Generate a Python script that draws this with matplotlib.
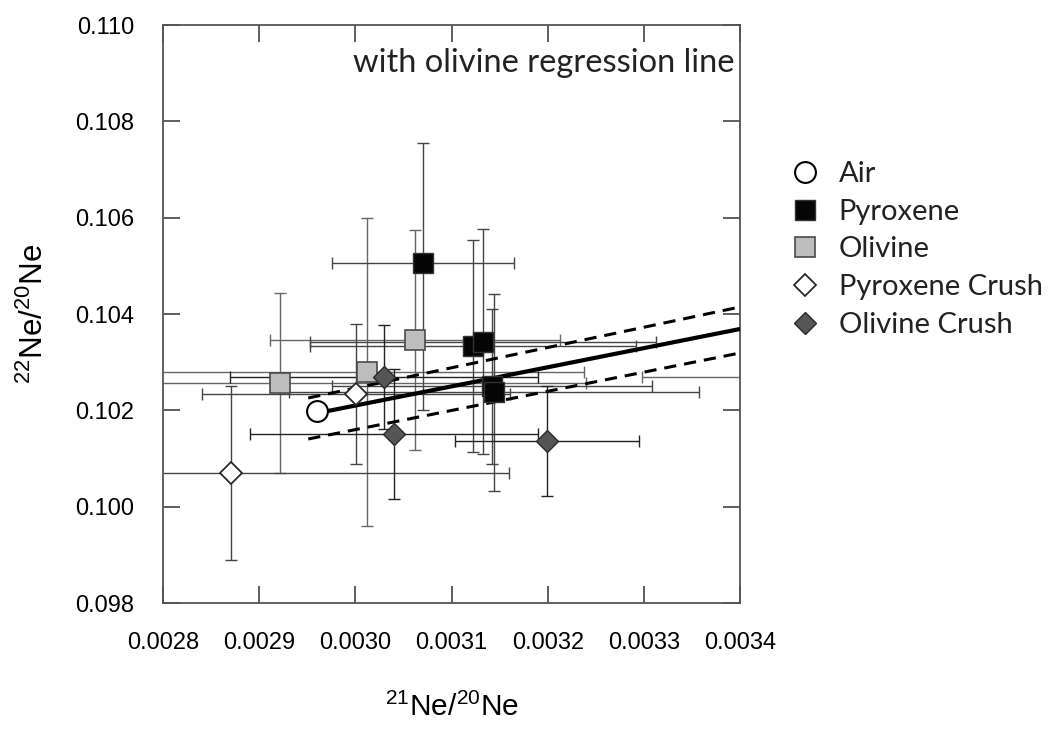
import numpy as np
import matplotlib

matplotlib.use('Agg')

import matplotlib.pyplot as plt

plt.rcParams['font.family'] = ['Liberation Sans', 'DejaVu Sans']
plt.rcParams['mathtext.fontset'] = 'custom'
plt.rcParams['mathtext.rm'] = 'Liberation Sans'
plt.rcParams['mathtext.default'] = 'regular'

# Air
air_x = [0.002960]
air_y = [0.101986]

# Pyroxene (black squares)
pyx_x = [0.0030704, 0.0031224, 0.0031328, 0.0031421, 0.0031442]
pyx_y = [0.105059, 0.103336, 0.103419, 0.102505, 0.102381]
pyx_xerr = [0.0000946, 0.0001695, 0.0001799, 0.0001664, 0.0002132]
pyx_yerr_lo = [0.00305, 0.00220, 0.00233, 0.00162, 0.00206]
pyx_yerr_hi = [0.00249, 0.00220, 0.00235, 0.00160, 0.00203]

# Olivine (grey squares) - the last one lies beyond the x range
oli_x = [0.0029217, 0.0030121, 0.0030621, 0.00345]
oli_y = [0.102568, 0.102796, 0.103460, 0.102692]
oli_xerr = [0.000318, 0.0002257, 0.0001508, 0.000152]
oli_yerr = [0.00186, 0.00320, 0.00228, 0.00100]

# Pyroxene crush (open diamonds)
pxc_x = [0.0028707, 0.0030007]
pxc_y = [0.100699, 0.102339]
pxc_xerr = [0.000289, 0.000160]
pxc_yerr = [0.00180, 0.00145]

# Olivine crush (dark diamonds)
olc_x = [0.0030298, 0.0030402, 0.0031993]
olc_y = [0.102692, 0.101509, 0.101363]
olc_xerr = [0.000160, 0.000150, 0.0000957]
olc_yerr = [0.00107, 0.00135, 0.00114]

# olivine regression line and its envelope
reg_x = [0.002961, 0.0034]
reg_y = [0.101945, 0.103689]
env_x = [0.002951, 0.0034]
env_hi = [0.102257, 0.104146]
env_lo = [0.101405, 0.103191]

fig = plt.figure(figsize=(10.56, 7.36), dpi=100)
ax = fig.add_axes([0.1544, 0.1807, 0.5464, 0.7853])

bar_kw = dict(fmt='none', capsize=4, elinewidth=1.0, capthick=1.0, zorder=2)
ax.errorbar(oli_x, oli_y, xerr=oli_xerr, yerr=oli_yerr, ecolor='#666666', **bar_kw)
ax.errorbar(pyx_x, pyx_y, xerr=pyx_xerr, yerr=[pyx_yerr_lo, pyx_yerr_hi], ecolor='#444444', **bar_kw)
ax.errorbar(pxc_x, pxc_y, xerr=pxc_xerr, yerr=pxc_yerr, ecolor='#444444', **bar_kw)
ax.errorbar(olc_x, olc_y, xerr=olc_xerr, yerr=olc_yerr, ecolor='#222222', **bar_kw)

ax.plot(reg_x, reg_y, color='black', lw=3.0, zorder=3, solid_capstyle='butt')
ax.plot(env_x, env_hi, color='black', lw=2.2, ls=(0, (4, 2.6)), zorder=3)
ax.plot(env_x, env_lo, color='black', lw=2.2, ls=(0, (4, 2.6)), zorder=3)

h_air, = ax.plot(air_x, air_y, ls='none', marker='o', ms=15, mfc='white', mec='black', mew=1.5,
                 zorder=5, label='Air')
h_pyx, = ax.plot(pyx_x, pyx_y, ls='none', marker='s', ms=15, mfc='#050505', mec='#333333', mew=1.0,
                 zorder=4, label='Pyroxene')
h_oli, = ax.plot(oli_x, oli_y, ls='none', marker='s', ms=15, mfc='#bdbdbd', mec='#4a4a4a', mew=1.2,
                 zorder=4, label='Olivine')
h_pxc, = ax.plot(pxc_x, pxc_y, ls='none', marker='D', ms=11, mfc='white', mec='#2a2a2a', mew=1.3,
                 zorder=4, label='Pyroxene Crush')
h_olc, = ax.plot(olc_x, olc_y, ls='none', marker='D', ms=11, mfc='#555555', mec='#2a2a2a', mew=1.0,
                 zorder=4, label='Olivine Crush')

ax.set_xlim(0.0028, 0.0034)
ax.set_ylim(0.098, 0.110)
ax.set_xticks(np.arange(0.0028, 0.00341, 0.0001))
ax.set_yticks(np.arange(0.098, 0.1101, 0.002))
ax.xaxis.set_major_formatter(matplotlib.ticker.FormatStrFormatter('%.4f'))
ax.yaxis.set_major_formatter(matplotlib.ticker.FormatStrFormatter('%.3f'))
ax.tick_params(direction='in', length=12, width=1.2, color='#444444', labelsize=17,
               top=True, right=True, pad=21)

for s in ax.spines.values():
    s.set_color('#555555')
    s.set_linewidth(1.3)

ax.set_xlabel(r'$^{21}$Ne/$^{20}$Ne', fontsize=21.5, va='top')
ax.xaxis.set_label_coords(0.5, -0.156)
ax.set_ylabel(r'$^{22}$Ne/$^{20}$Ne', fontsize=22.5)
ax.yaxis.set_label_coords(-0.196, 0.5)

ax.text(0.991, 0.934, 'with olivine regression line', transform=ax.transAxes,
        ha='right', va='center', fontsize=23.5, family=['Lato', 'DejaVu Sans'], color='#222222')

leg = ax.legend(handles=[h_air, h_pyx, h_oli, h_pxc, h_olc], loc='upper left',
                bbox_to_anchor=(0.735, 0.801), bbox_transform=fig.transFigure,
                frameon=False, prop={'family': ['Lato', 'DejaVu Sans'], 'size': 21},
                handletextpad=0.65, labelspacing=0.4, handlelength=1.0, borderpad=0)
for t in leg.get_texts():
    t.set_color('#222222')

fig.savefig('out.png', dpi=100)
